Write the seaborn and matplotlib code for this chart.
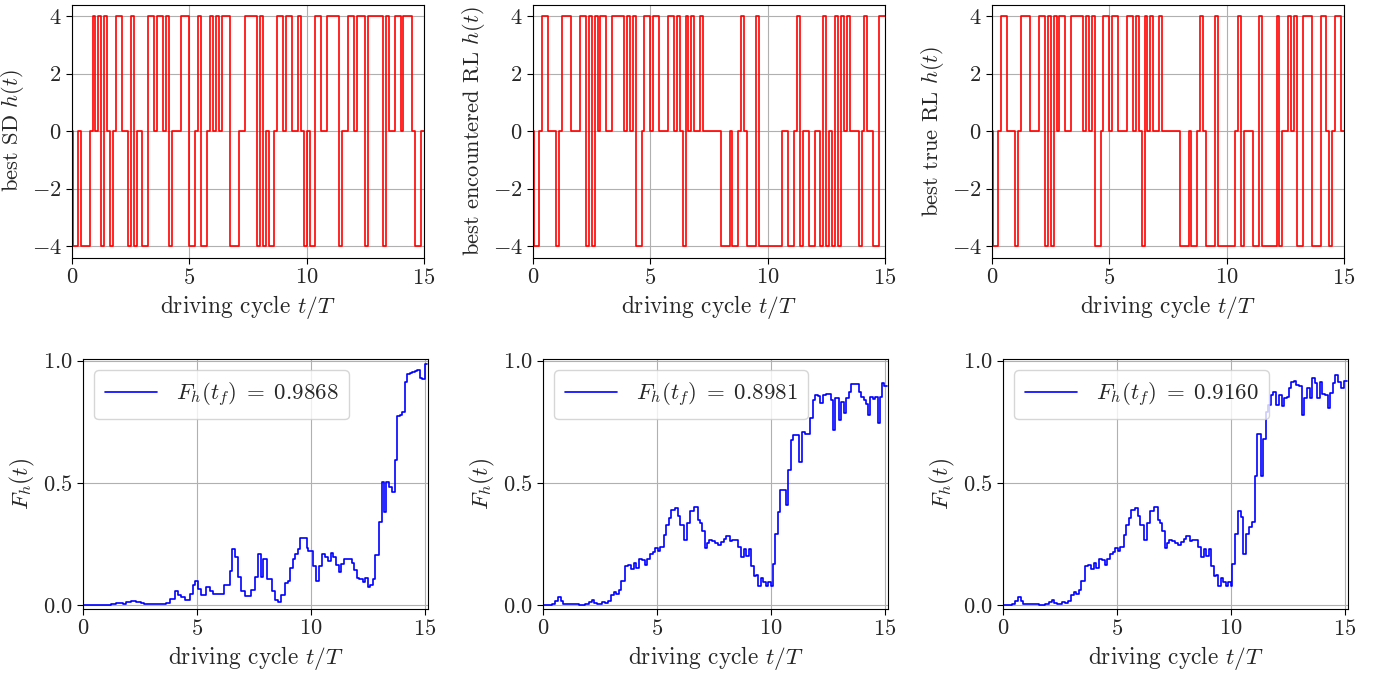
import matplotlib
matplotlib.use("Agg")
import matplotlib.pyplot as plt
import seaborn as sns
import pandas as pd

# ---- top row: switching times t/T and the value h(t) that starts there ----
sd_t = [0, 0.0625, 0.25, 0.375, 0.75, 0.875, 1.0, 1.125, 1.25, 1.375, 1.5, 1.625, 1.75, 1.875,
        2.125, 2.375, 2.5, 2.625, 2.75, 3.0, 3.25, 3.5, 3.625, 3.875, 4.0, 4.125, 4.25, 4.625,
        5.0, 5.25, 5.375, 5.5, 5.75, 5.875, 6.0, 6.125, 6.25, 6.375, 6.75, 7.125, 7.375, 7.875,
        8.0, 8.125, 8.25, 8.375, 8.625, 8.75, 9.0, 9.125, 9.375, 9.625, 9.75, 9.875, 10.0,
        10.125, 10.375, 10.625, 10.875, 11.375, 11.5, 11.75, 12.0, 12.125, 12.5, 12.625, 13.25,
        13.375, 13.5, 13.75, 14.0, 14.125, 14.5, 14.625, 14.875, 15.0]
sd_h = [0, -4, 0, -4, 0, 4, 0, 4, -4, 4, 0, -4, 0, 4,
        0, -4, 4, -4, 0, -4, 4, 0, 4, 0, 4, -4, 0, 4,
        -4, 0, 4, -4, 0, 4, 0, 4, 0, 4, -4, 0, 4, -4,
        4, -4, 0, -4, 0, 4, 0, 4, 0, 4, 0, -4, 0,
        -4, 4, 0, 4, -4, 0, 4, 0, 4, -4, 4, -4,
        4, 0, 4, 0, 4, 0, -4, 0, 0]

# both RL protocols share the first half
rl_head_t = [0, 0.0625, 0.25, 0.375, 0.625, 1.0, 1.125, 1.25, 1.625, 2.0, 2.25, 2.375, 2.5,
             2.625, 2.75, 2.875, 3.125, 3.375, 3.875, 4.0, 4.125, 4.25, 4.375, 4.625, 4.75,
             5.0, 5.125, 5.375, 5.75, 6.0, 6.125, 6.25, 6.375, 6.5, 6.625, 6.75, 6.875, 7.125, 7.25]
rl_head_h = [0, -4, 0, 4, 0, -4, 0, 4, 0, 4, -4, 4, -4,
             4, 0, 4, 0, 4, 0, 4, 0, 4, -4, 0, 4,
             0, 4, 0, 4, 0, 4, 0, -4, 4, 0, 4, 0, 4, 0]

enc_tail_t = [8.0, 8.375, 8.5, 8.75, 8.875, 9.0, 9.125, 9.5, 9.625, 10.625, 10.875, 11.125,
              11.25, 11.375, 11.5, 11.75, 12.0, 12.25, 12.375, 12.5, 12.625, 12.75, 12.875,
              13.0, 13.125, 13.25, 13.375, 13.5, 13.875, 14.0, 14.125, 14.25, 14.5, 14.75, 15.0]
enc_tail_h = [-4, 0, -4, 0, 4, 0, -4, 4, -4, 0, -4, 0,
              4, -4, 0, -4, 0, -4, 4, -4, 0, -4, 4,
              -4, 4, 0, 4, 0, -4, 0, 4, 0, -4, 4, 4]

true_tail_t = [8.0, 8.375, 8.5, 8.75, 8.875, 9.0, 9.125, 9.5, 9.625, 10.375, 10.5, 10.625,
               10.75, 11.125, 11.375, 11.5, 12.125, 12.25, 12.375, 12.625, 12.75, 12.875,
               13.0, 13.25, 13.625, 14.0, 14.25, 14.375, 14.5, 14.625, 14.875, 15.0]
true_tail_h = [-4, 0, -4, 0, 4, 0, -4, 4, -4, 0, 4, -4,
               0, -4, 4, -4, 4, -4, 0, 4, 0, 4,
               -4, 4, -4, 4, 0, -4, 0, 4, 0, 0]

# ---- bottom row: fidelity F_h(t), step starts and values ----
sd_ft = [0.0, 1.23, 1.45, 1.74, 1.89, 2.11, 2.33, 2.55, 2.69, 3.65, 3.80, 4.02, 4.16, 4.31,
         4.46, 4.68, 4.82, 4.93, 5.04, 5.16, 5.41, 5.56, 5.70, 5.81, 6.17, 6.44, 6.56, 6.69,
         6.81, 6.95, 7.10, 7.39, 7.55, 7.70, 7.82, 7.92, 8.07, 8.29, 8.41, 8.55, 8.70, 8.85,
         9.00, 9.10, 9.20, 9.32, 9.43, 9.54, 9.83, 9.90, 10.08, 10.23, 10.35, 10.49, 10.64,
         10.78, 10.90, 11.00, 11.10, 11.23, 11.34, 11.45, 11.60, 11.81, 11.92, 12.03, 12.14,
         12.28, 12.40, 12.52, 12.62, 12.72, 12.84, 12.99, 13.11, 13.21, 13.31, 13.43, 13.55,
         13.69, 13.80, 13.90, 14.01, 14.12, 14.24, 14.35, 14.45, 14.57, 14.68, 14.78, 14.90,
         15.00, 15.10]
sd_f = [0.003, 0.005, 0.009, 0.005, 0.013, 0.016, 0.012, 0.008, 0.004, 0.01, 0.025, 0.057,
        0.043, 0.034, 0.023, 0.048, 0.082, 0.10, 0.068, 0.043, 0.076, 0.057, 0.048, 0.047,
        0.085, 0.14, 0.232, 0.198, 0.116, 0.057, 0.038, 0.061, 0.116, 0.208, 0.116, 0.19,
        0.107, 0.057, 0.02, 0.014, 0.044, 0.092, 0.10, 0.152, 0.188, 0.208, 0.232, 0.276,
        0.234, 0.224, 0.16, 0.10, 0.16, 0.208, 0.198, 0.18, 0.215, 0.198, 0.164, 0.137,
        0.17, 0.188, 0.19, 0.175, 0.143, 0.112, 0.107, 0.096, 0.11, 0.075, 0.085, 0.107,
        0.205, 0.342, 0.505, 0.38, 0.505, 0.485, 0.465, 0.594, 0.772, 0.78, 0.79, 0.915,
        0.945, 0.948, 0.952, 0.958, 0.962, 0.93, 0.925, 0.987, 0.987]

rl_head_ft = [0.0, 0.38, 0.53, 0.65, 0.79, 0.90, 1.04, 1.41, 1.56, 1.85, 2.00, 2.14, 2.26,
              2.36, 2.58, 2.73, 2.85, 2.99, 3.10, 3.21, 3.32, 3.43, 3.58, 3.73, 3.87, 3.98,
              4.09, 4.20, 4.34, 4.46, 4.56, 4.68, 4.81, 4.93, 5.03, 5.15, 5.30, 5.41, 5.52,
              5.63, 5.78, 5.93, 6.03, 6.18, 6.32, 6.47, 6.62, 6.81, 6.88, 6.98, 7.10, 7.20,
              7.31, 7.42, 7.57, 7.70, 7.80, 7.95, 8.05, 8.20, 8.32, 8.43, 8.58, 8.68, 8.83,
              8.93, 9.05, 9.15, 9.27, 9.37, 9.46, 9.57, 9.67, 9.78, 9.90]
rl_head_f = [0.0, 0.007, 0.016, 0.034, 0.016, 0.007, 0.004, 0.005, 0.002, 0.006, 0.013, 0.02,
             0.011, 0.007, 0.013, 0.009, 0.016, 0.041, 0.055, 0.048, 0.061, 0.098, 0.16, 0.164,
             0.15, 0.171, 0.153, 0.19, 0.185, 0.164, 0.188, 0.208, 0.216, 0.235, 0.222, 0.24,
             0.287, 0.328, 0.358, 0.389, 0.399, 0.366, 0.328, 0.266, 0.335, 0.385, 0.403,
             0.348, 0.335, 0.303, 0.235, 0.253, 0.266, 0.262, 0.253, 0.246, 0.26, 0.273, 0.284,
             0.262, 0.266, 0.268, 0.238, 0.198, 0.232, 0.2, 0.232, 0.16, 0.12, 0.123, 0.08,
             0.111, 0.096, 0.079, 0.096]

enc_tail_ft = [10.0, 10.11, 10.19, 10.30, 10.40, 10.67, 10.78, 10.89, 10.99, 11.22, 11.37,
               11.51, 11.74, 11.84, 11.95, 12.06, 12.17, 12.28, 12.42, 12.64, 12.72, 12.83,
               12.98, 13.08, 13.20, 13.30, 13.42, 13.52, 13.86, 13.96, 14.08, 14.18, 14.27,
               14.38, 14.48, 14.60, 14.70, 14.80, 14.89, 14.99, 15.10]
enc_tail_f = [0.079, 0.17, 0.29, 0.383, 0.471, 0.41, 0.553, 0.677, 0.697, 0.587, 0.707, 0.70,
              0.765, 0.84, 0.858, 0.854, 0.827, 0.861, 0.864, 0.84, 0.717, 0.847, 0.758, 0.833,
              0.786, 0.847, 0.874, 0.904, 0.874, 0.85, 0.84, 0.822, 0.779, 0.85, 0.845, 0.85,
              0.745, 0.85, 0.908, 0.898, 0.898]

true_tail_ft = [10.0, 10.07, 10.19, 10.33, 10.44, 10.55, 10.69, 10.80, 10.92, 11.07, 11.17,
                11.32, 11.42, 11.54, 11.65, 11.76, 11.86, 11.98, 12.12, 12.24, 12.34, 12.46,
                12.56, 12.66, 12.78, 12.88, 13.00, 13.12, 13.22, 13.37, 13.47, 13.59, 13.71,
                13.81, 13.91, 14.03, 14.15, 14.25, 14.35, 14.47, 14.59, 14.69, 14.84, 14.98, 15.10]
true_tail_f = [0.079, 0.17, 0.29, 0.385, 0.36, 0.21, 0.29, 0.32, 0.34, 0.53, 0.70, 0.53, 0.68,
               0.79, 0.82, 0.858, 0.872, 0.82, 0.858, 0.813, 0.847, 0.85, 0.888, 0.912, 0.918,
               0.90, 0.895, 0.779, 0.847, 0.888, 0.847, 0.931, 0.908, 0.847, 0.915, 0.864, 0.86,
               0.806, 0.867, 0.908, 0.941, 0.915, 0.888, 0.916, 0.916]

top_labels = ["best SD $h(t)$", "best encountered RL $h(t)$", "best true RL $h(t)$"]
final_fidelity = ["0.9868", "0.8981", "0.9160"]

sns.set_theme(style="ticks")
plt.rcParams["font.family"] = ["serif"]
plt.rcParams["font.serif"] = ["cmr10"]
plt.rcParams["mathtext.fontset"] = "cm"
plt.rcParams["axes.formatter.use_mathtext"] = True
plt.rcParams["axes.edgecolor"] = "black"

FS = 16.2

fig = plt.figure(figsize=(13.88, 6.77), dpi=100)
W, H = 1388, 677
top_left = [72, 533, 992]
bot_left = [83, 543, 1003]


def style_axes(ax):
    ax.grid(True, color="#b0b0b0", lw=0.8)
    ax.tick_params(labelsize=FS, length=4, width=0.8, color="black", direction="out")
    for s in ax.spines.values():
        s.set_linewidth(0.8)
    ax.set_xlabel("driving cycle $t/T$", fontsize=FS + 0.6)


protocols = [
    (sd_t, sd_h),
    (rl_head_t + enc_tail_t, rl_head_h + enc_tail_h),
    (rl_head_t + true_tail_t, rl_head_h + true_tail_h),
]
fidelities = [
    (sd_ft, sd_f),
    (rl_head_ft + enc_tail_ft, rl_head_f + enc_tail_f),
    (rl_head_ft + true_tail_ft, rl_head_f + true_tail_f),
]

for i in range(3):
    # protocol panel
    ax = fig.add_axes([top_left[i] / W, 1 - 257.5 / H, 352 / W, 253 / H])
    t, h = protocols[i]
    df = pd.DataFrame({"t": t, "h": h})
    sns.lineplot(data=df, x="t", y="h", ax=ax, color="red", lw=1.2,
                 drawstyle="steps-post", estimator=None)
    ax.set_xlim(0, 15)
    ax.set_ylim(-4.4, 4.4)
    ax.set_xticks([0, 5, 10, 15])
    ax.set_yticks([-4, -2, 0, 2, 4])
    style_axes(ax)
    ax.set_ylabel(top_labels[i], fontsize=FS)

    # fidelity panel
    ax = fig.add_axes([bot_left[i] / W, 1 - 608.5 / H, 345 / W, 249.5 / H])
    t, f = fidelities[i]
    df = pd.DataFrame({"t": t, "F": f})
    sns.lineplot(data=df, x="t", y="F", ax=ax, color="blue", lw=1.2,
                 drawstyle="steps-post", estimator=None,
                 label=r"$F_h(t_f)\;=\;%s$" % final_fidelity[i])
    ax.set_xlim(0, 15.15)
    ax.set_ylim(-0.013, 1.007)
    ax.set_xticks([0, 5, 10, 15])
    ax.set_yticks([0.0, 0.5, 1.0])
    style_axes(ax)
    ax.set_ylabel("$F_h(t)$", fontsize=FS + 0.6)
    ax.legend(loc="upper left", fontsize=16.5, handlelength=2.3, frameon=True,
              fancybox=True, framealpha=0.8, edgecolor="0.8", borderpad=0.45)

fig.savefig("out.png", dpi=100)
